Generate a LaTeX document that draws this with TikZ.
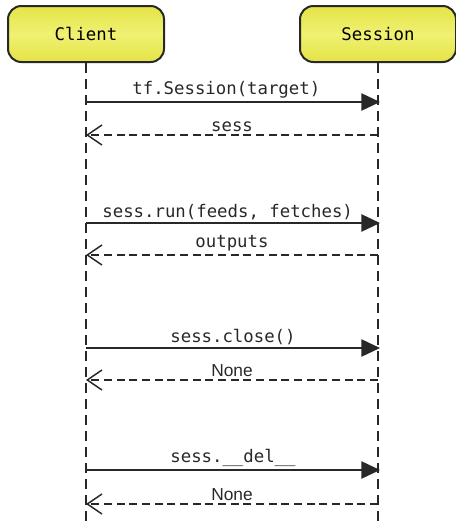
\documentclass[tikz,border=0pt]{standalone}
\usepackage{fontspec}
\setmonofont{DejaVu Sans Mono}
\setsansfont{Liberation Sans}
\usetikzlibrary{arrows.meta}
\definecolor{lifeyellow}{RGB}{228,228,70}
\definecolor{lightyellow}{RGB}{240,240,115}
\definecolor{inkgray}{RGB}{40,40,40}
\begin{document}
\begin{tikzpicture}[x=0.75pt,y=-0.75pt,
    actor/.style={rectangle,rounded corners=10pt,draw=inkgray,line width=1.5pt,
      top color=lifeyellow,bottom color=lifeyellow,middle color=lightyellow,
      minimum width=117pt,minimum height=42pt,font=\ttfamily\fontsize{13}{15}\selectfont},
    lifeline/.style={draw=inkgray,line width=1pt,dash pattern=on 7.5pt off 4.5pt},
    call/.style={draw=inkgray,line width=1.1pt,-{Triangle[length=14pt,width=13pt]}},
    reply/.style={draw=inkgray,line width=1.1pt,dash pattern=on 6pt off 3.5pt,
      -{Straight Barb[length=11pt,width=15pt,line width=1.1pt]}},
    msg/.style={above,inner sep=2pt,font=\ttfamily\fontsize{13}{15}\selectfont,text=inkgray}]
  \useasboundingbox (0,0) rectangle (456,521);

  \node[actor] (client) at (86,34) {Client};
  \node[actor] (session) at (378,34) {Session};

  % lifelines
  \coordinate (cend) at (86,521);
  \coordinate (send) at (378,521);
  \path (client) edge [lifeline] (cend);
  \path (session) edge [lifeline] (send);

  % message points
  \coordinate (c1) at (86,102);  \coordinate (s1) at (380,102);
  \coordinate (c2) at (86,135);  \coordinate (s2) at (378,135);
  \coordinate (c3) at (86,223);  \coordinate (s3) at (380,223);
  \coordinate (c4) at (86,255);  \coordinate (s4) at (378,255);
  \coordinate (c5) at (86,348);  \coordinate (s5) at (380,348);
  \coordinate (c6) at (86,380);  \coordinate (s6) at (378,380);
  \coordinate (c7) at (86,470);  \coordinate (s7) at (380,470);
  \coordinate (c8) at (86,504);  \coordinate (s8) at (378,504);

  \path (c1) edge [call] node [msg,xshift=-5pt] {tf.Session(target)} (s1);
  \path (s2) edge [reply] node [msg] {sess} (c2);
  \path (c3) edge [call] node [msg,xshift=-4pt] {sess.run(feeds, fetches)} (s3);
  \path (s4) edge [reply] node [msg] {outputs} (c4);
  \path (c5) edge [call] node [msg] {sess.close()} (s5);
  \path (s6) edge [reply] node [msg,font=\sffamily\fontsize{13}{15}\selectfont] {None} (c6);
  \path (c7) edge [call] node [msg] {sess.\_\_del\_\_} (s7);
  \path (s8) edge [reply] node [msg,font=\sffamily\fontsize{13}{15}\selectfont] {None} (c8);
\end{tikzpicture}
\end{document}
